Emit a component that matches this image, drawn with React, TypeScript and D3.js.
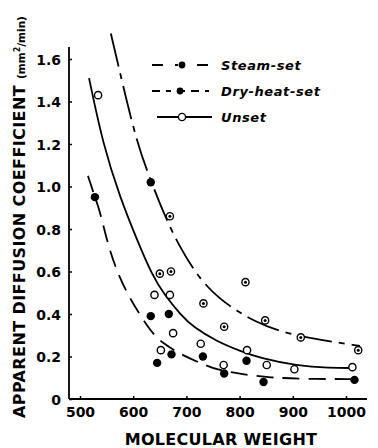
import { useEffect, useRef } from "react";
import * as d3 from "d3";

// ----- Data ----------------------------------------------------------------
const molecularWeightTicks = [500, 600, 700, 800, 900, 1000];
const coefficientTicks = [0, 0.2, 0.4, 0.6, 0.8, 1.0, 1.2, 1.4, 1.6];

const legendLabels = ["Steam-set", "Dry-heat-set", "Unset"];

// [molecular weight, apparent diffusion coefficient]
const steamSetPoints: [number, number][] = [
  [669, 0.86], [650, 0.59], [671, 0.6], [732, 0.45], [811, 0.55],
  [771, 0.34], [848, 0.37], [915, 0.29], [1023, 0.23],
];
const steamSetSolidPoints: [number, number][] = [[633, 1.02]];

const dryHeatSetPoints: [number, number][] = [
  [528, 0.95], [633, 0.39], [667, 0.4], [645, 0.17], [672, 0.21],
  [731, 0.2], [771, 0.12], [813, 0.18], [845, 0.08], [1016, 0.09],
];

const unsetPoints: [number, number][] = [
  [534, 1.43], [640, 0.49], [669, 0.49], [675, 0.31], [652, 0.23],
  [727, 0.26], [770, 0.16], [814, 0.23], [851, 0.16], [903, 0.14], [1012, 0.15],
];

// fitted curves, sampled along the drawn lines
const steamSetCurve: [number, number][] = [
  [558, 1.72], [571, 1.58], [607, 1.2], [633, 1.03], [656, 0.88], [688, 0.71],
  [726, 0.56], [763, 0.47], [795, 0.415], [825, 0.37], [870, 0.32], [945, 0.28],
  [1026, 0.25],
];
const dryHeatSetCurve: [number, number][] = [
  [515, 1.05], [528, 0.95], [538, 0.88], [553, 0.72], [571, 0.59], [594, 0.47],
  [632, 0.32], [654, 0.264], [694, 0.203], [739, 0.156], [757, 0.138], [801, 0.118],
  [857, 0.1], [927, 0.094], [1016, 0.094],
];
const unsetCurve: [number, number][] = [
  [517, 1.51], [543, 1.2], [575, 0.95], [607, 0.75], [635, 0.585], [660, 0.485],
  [690, 0.395], [712, 0.34], [758, 0.27], [801, 0.226], [838, 0.193], [908, 0.156],
  [970, 0.146], [1013, 0.146],
];

const FONT = "'DejaVu Sans', sans-serif";

const App = () => {
  const svgRef = useRef<SVGSVGElement | null>(null);

  useEffect(() => {
    const svg = d3.select(svgRef.current);
    svg.selectAll("*").remove();

    const x = d3.scaleLinear().domain([500, 1000]).range([80, 346]);
    const y = d3.scaleLinear().domain([0, 1.6]).range([399, 59]);
    const axisX = 69;
    const axisY = 399;

    // ----- Axes -----------------------------------------------------------
    const gx = svg
      .append("g")
      .attr("transform", `translate(0,${axisY})`)
      .call(
        d3
          .axisBottom(x)
          .tickValues(molecularWeightTicks)
          .tickSize(-3)
          .tickPadding(8)
          .tickFormat((d) => String(d)),
      );
    gx.select(".domain").remove();
    svg
      .append("line")
      .attr("x1", axisX)
      .attr("x2", 367)
      .attr("y1", axisY)
      .attr("y2", axisY)
      .attr("stroke", "#000")
      .attr("stroke-width", 1.8);

    const gy = svg
      .append("g")
      .attr("transform", `translate(${axisX},0)`)
      .call(
        d3
          .axisLeft(y)
          .tickValues(coefficientTicks)
          .tickSize(-3)
          .tickPadding(8)
          .tickFormat((d) => (+d === 0 ? "0" : d3.format(".1f")(+d))),
      );
    gy.select(".domain").remove();
    svg
      .append("line")
      .attr("x1", axisX)
      .attr("x2", axisX)
      .attr("y1", 47)
      .attr("y2", axisY)
      .attr("stroke", "#000")
      .attr("stroke-width", 1.8);

    [gx, gy].forEach((g) => {
      g.selectAll("line").attr("stroke-width", 1.5);
      g.selectAll("text")
        .attr("font-family", FONT)
        .attr("font-weight", "bold")
        .attr("font-size", 14)
        .attr("fill", "#000");
    });
    gy.selectAll("text").attr("dy", "0.36em");

    // ----- Axis titles ----------------------------------------------------
    svg
      .append("text")
      .attr("x", 221)
      .attr("y", 445)
      .attr("text-anchor", "middle")
      .attr("font-family", FONT)
      .attr("font-size", 16)
      .attr("font-weight", "bold")
      .attr("letter-spacing", 0.3)
      .text("MOLECULAR WEIGHT");

    const yt = svg
      .append("text")
      .attr("transform", "translate(25,418) rotate(-90)")
      .attr("font-family", FONT)
      .attr("font-weight", "bold")
      .attr("font-size", 16)
      .attr("letter-spacing", 0.4);
    yt.append("tspan").text("APPARENT DIFFUSION COEFFICIENT ");
    yt.append("tspan").attr("font-size", 10.5).attr("letter-spacing", 0).text("(mm");
    yt.append("tspan").attr("font-size", 8).attr("dy", -5).attr("letter-spacing", 0).text("2");
    yt.append("tspan").attr("font-size", 10.5).attr("dy", 5).attr("letter-spacing", 0).text("/min)");

    // ----- Curves ---------------------------------------------------------
    const line = d3
      .line<[number, number]>()
      .x((d) => x(d[0]))
      .y((d) => y(d[1]))
      .curve(d3.curveBasis);

    const curves: { data: [number, number][]; dash: string | null }[] = [
      { data: steamSetCurve, dash: "34,7,6,7" },
      { data: dryHeatSetCurve, dash: "17,9" },
      { data: unsetCurve, dash: null },
    ];
    curves.forEach((c) => {
      svg
        .append("path")
        .datum(c.data)
        .attr("fill", "none")
        .attr("stroke", "#000")
        .attr("stroke-width", 1.8)
        .attr("stroke-dasharray", c.dash)
        .attr("d", line);
    });

    // ----- Markers --------------------------------------------------------
    const openCircle = (g: any, cx: number, cy: number) =>
      g.append("circle").attr("cx", cx).attr("cy", cy).attr("r", 3.6)
        .attr("fill", "#fff").attr("stroke", "#000").attr("stroke-width", 1.4);
    const solidCircle = (g: any, cx: number, cy: number) =>
      g.append("circle").attr("cx", cx).attr("cy", cy).attr("r", 4.2).attr("fill", "#000");
    const dotCircle = (g: any, cx: number, cy: number) => {
      openCircle(g, cx, cy);
      g.append("circle").attr("cx", cx).attr("cy", cy).attr("r", 1.5).attr("fill", "#000");
    };

    const marks = svg.append("g");
    unsetPoints.forEach((d) => openCircle(marks, x(d[0]), y(d[1])));
    dryHeatSetPoints.forEach((d) => solidCircle(marks, x(d[0]), y(d[1])));
    steamSetPoints.forEach((d) => dotCircle(marks, x(d[0]), y(d[1])));
    steamSetSolidPoints.forEach((d) => solidCircle(marks, x(d[0]), y(d[1])));

    // ----- Legend ---------------------------------------------------------
    const legend = svg.append("g");
    const rows = [65, 91, 117];
    const dashes = ["11,12,3,4,0,15,11", "8,6,5,6,8,6,8,6,8", null];
    legendLabels.forEach((label, i) => {
      const yy = rows[i];
      const x0 = i === 2 ? 157 : 152;
      legend
        .append("line")
        .attr("x1", x0)
        .attr("x2", i === 2 ? 212 : 209)
        .attr("y1", yy)
        .attr("y2", yy)
        .attr("stroke", "#000")
        .attr("stroke-width", 1.8)
        .attr("stroke-dasharray", dashes[i]);
      if (i === 2) openCircle(legend, 182, yy);
      else legend.append("circle").attr("cx", i === 0 ? 182 : 180).attr("cy", yy).attr("r", 3.4).attr("fill", "#000");
      legend
        .append("text")
        .attr("x", 221)
        .attr("y", yy + 5)
        .attr("font-family", FONT)
        .attr("font-size", 13)
        .attr("font-weight", "bold")
        .attr("font-style", "italic")
        .attr("letter-spacing", 0.6)
        .text(label);
    });
  }, []);

  return (
    <svg
      ref={svgRef}
      width={378}
      height={448}
      style={{ position: "absolute", left: 0, top: 0, background: "#fff" }}
    />
  );
};

export default App;
